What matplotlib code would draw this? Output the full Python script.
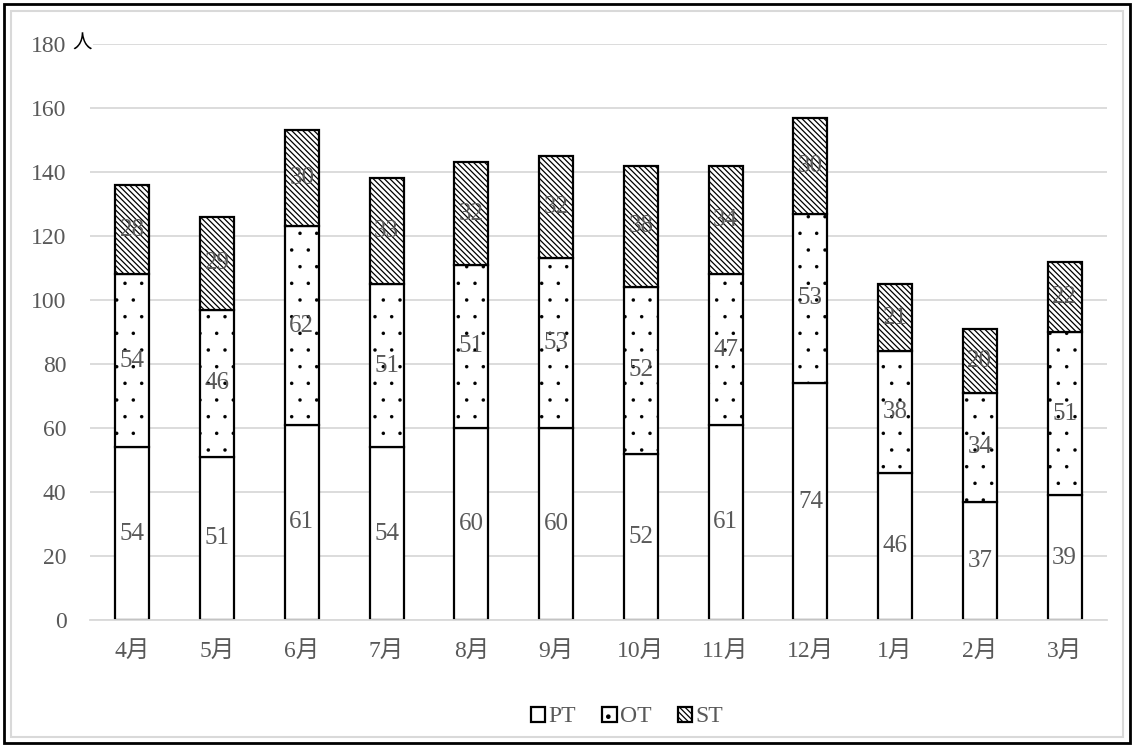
import matplotlib.pyplot as plt
from matplotlib.patches import Rectangle
import numpy as np

plt.rcParams['font.family'] = ['Liberation Serif', 'Noto Sans CJK JP']

months = ['4月', '5月', '6月', '7月', '8月', '9月', '10月', '11月', '12月', '1月', '2月', '3月']
pt = [54, 51, 61, 54, 60, 60, 52, 61, 74, 46, 37, 39]
ot = [54, 46, 62, 51, 51, 53, 52, 47, 53, 38, 34, 51]
st = [28, 29, 30, 33, 32, 32, 38, 34, 30, 21, 20, 22]

txt = '#595959'
fig = plt.figure(figsize=(11.34, 7.46), dpi=100)
ax = fig.add_axes([90 / 1134, 126 / 746, 1017 / 1134, 576 / 746])

x = np.arange(len(months))
w = 0.4
b1 = ax.bar(x, pt, w, color='white', edgecolor='black', linewidth=1.6, label='PT')
plt.rcParams['hatch.linewidth'] = 0.1
b2 = ax.bar(x, ot, w, bottom=pt, color='white', edgecolor='black', linewidth=1.6,
            hatch='.', label='OT')
plt.rcParams['hatch.linewidth'] = 0.9
bot3 = np.array(pt) + np.array(ot)
b3 = ax.bar(x, st, w, bottom=bot3, color='white', edgecolor='black', linewidth=1.6,
            hatch='\\' * 6, label='ST')

for bars in (b1, b2, b3):
    ax.bar_label(bars, label_type='center', fontsize=18, color=txt)

ax.set_xlim(-0.5, len(months) - 0.5)
ax.set_ylim(0, 180)
ax.set_yticks(range(0, 181, 20))
ax.set_xticks(x)
ax.set_xticklabels(months)
ax.tick_params(length=0, labelsize=17, labelcolor=txt)
ax.tick_params(axis='x', pad=15)
ax.tick_params(axis='y', pad=17)
ax.grid(axis='y', color='#d9d9d9', linewidth=1.3)
ax.set_axisbelow(True)
for s in ['top', 'right', 'left']:
    ax.spines[s].set_visible(False)
ax.spines['bottom'].set_color('#d9d9d9')
ax.spines['bottom'].set_linewidth(1.3)

ax.text(0.002, 180, '人', ha='right', va='center', fontsize=14, color='black',
        transform=ax.get_yaxis_transform(),
        bbox=dict(facecolor='white', edgecolor='none', pad=1))

fig.legend(loc='center', bbox_to_anchor=(0.553, 1 - 717 / 746), ncol=3, frameon=False,
           fontsize=17, handlelength=0.6, handleheight=0.6, handletextpad=0.15,
           columnspacing=1.1, labelcolor=txt)

fig.patches.append(Rectangle((4 / 1134, 3 / 746), 1126 / 1134, 739 / 746,
                             transform=fig.transFigure, fill=False,
                             edgecolor='black', linewidth=2))
fig.patches.append(Rectangle((11 / 1134, 9 / 746), 1112 / 1134, 726 / 746,
                             transform=fig.transFigure, fill=False,
                             edgecolor='#d9d9d9', linewidth=1.5))

fig.savefig('out.png', dpi=100)
